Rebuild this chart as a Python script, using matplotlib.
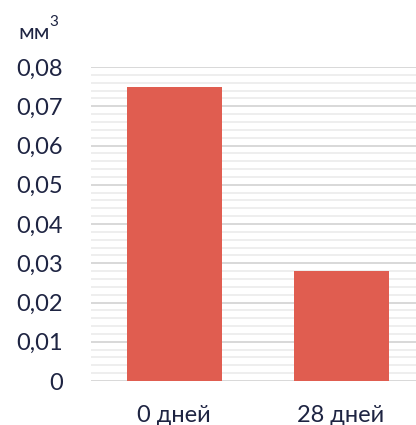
import matplotlib
matplotlib.use("Agg")
import matplotlib.pyplot as plt
from matplotlib.ticker import MultipleLocator, FuncFormatter

# данные
categories = ["0 дней", "28 дней"]
values = [0.075, 0.028]
y_ticks = [0, 0.01, 0.02, 0.03, 0.04, 0.05, 0.06, 0.07, 0.08]

COR_BARRA = "#e05d50"
COR_TEXTO = "#1e2442"

plt.rcParams["font.family"] = ["Lato", "DejaVu Sans"]

fig = plt.figure(figsize=(4.16, 4.25), dpi=100)
ax = fig.add_axes([91 / 416, 1 - 381 / 425, 1 - 91 / 416, (381 - 67) / 425])

x = range(len(categories))
ax.bar(x, values, width=0.57, color=COR_BARRA, zorder=3)

ax.set_xlim(-0.5, 1.45)
ax.set_ylim(0, 0.08)
ax.set_yticks(y_ticks)
ax.yaxis.set_minor_locator(MultipleLocator(0.002))
ax.yaxis.set_major_formatter(
    FuncFormatter(lambda v, _: "0" if v == 0 else f"{v:.2f}".replace(".", ",")))
ax.set_xticks(list(x))
ax.set_xticklabels(categories)

ax.grid(axis="y", which="major", color="#d6d6d6", linewidth=1.3, zorder=0)
ax.grid(axis="y", which="minor", color="#ededed", linewidth=1.3, zorder=0)
ax.set_axisbelow(True)

for lado in ax.spines.values():
    lado.set_visible(False)
ax.tick_params(axis="both", which="both", length=0, labelsize=17, colors=COR_TEXTO)
ax.tick_params(axis="y", pad=20)
ax.tick_params(axis="x", pad=17)

fig.text(18 / 416, 1 - 39 / 425, "мм", fontsize=16, color=COR_TEXTO,
         ha="left", va="baseline")
fig.text(49 / 416, 1 - 26 / 425, "3", fontsize=11, color=COR_TEXTO,
         ha="left", va="baseline")

fig.savefig("out.png", dpi=100)
